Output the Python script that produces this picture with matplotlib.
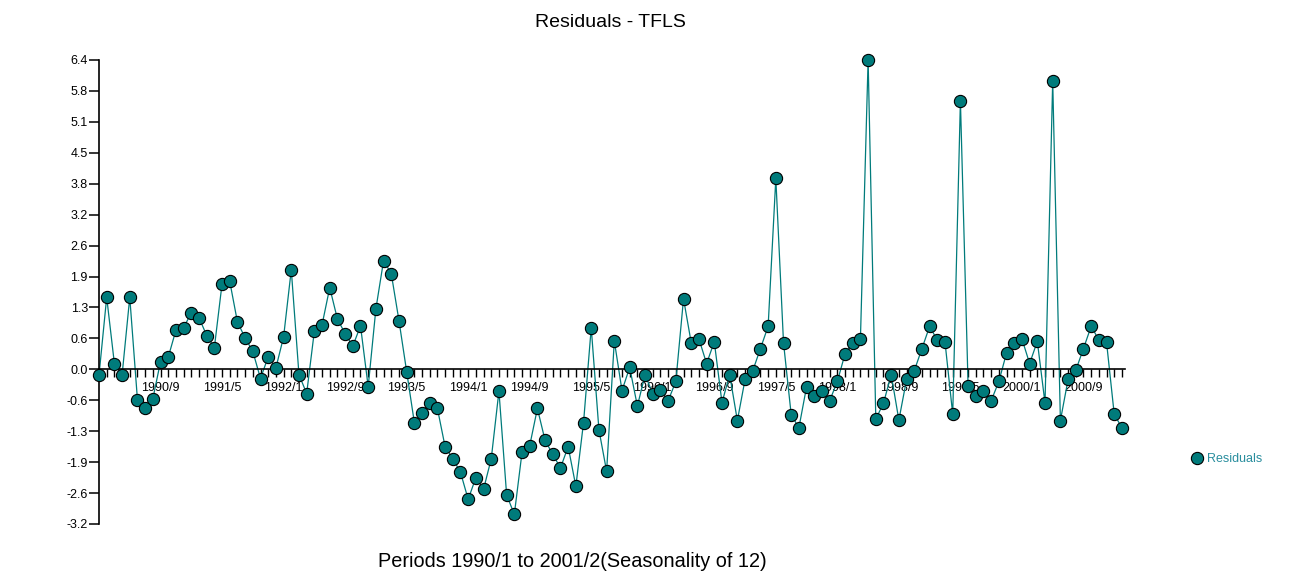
import matplotlib
matplotlib.use("Agg")
import matplotlib.pyplot as plt
from matplotlib.lines import Line2D
import numpy as np

plt.rcParams.update({
    "font.family": ["Liberation Sans", "DejaVu Sans"],
    "figure.dpi": 100,
})

# ── Data ───────────────────────────────────────────────────────────────────────
START_YEAR, START_MONTH = 1990, 1

residuals = [
    -0.12, 1.49, 0.12, -0.12, 1.49, -0.63, -0.81, -0.61, 0.16, 0.25,
    0.81, 0.86, 1.17, 1.07, 0.70, 0.45, 1.77, 1.82, 0.98, 0.65,
    0.37, -0.19, 0.26, 0.03, 0.67, 2.06, -0.11, -0.50, 0.79, 0.92,
    1.69, 1.04, 0.74, 0.48, 0.90, -0.36, 1.25, 2.25, 1.98, 1.01,
    -0.05, -1.10, -0.90, -0.69, -0.81, -1.60, -1.85, -2.13, -2.69, -2.24,
    -2.48, -1.85, -0.45, -2.60, -3.00, -1.72, -1.58, -0.81, -1.47, -1.76,
    -2.04, -1.60, -2.42, -1.10, 0.86, -1.25, -2.11, 0.59, -0.44, 0.04,
    -0.76, -0.11, -0.51, -0.43, -0.65, -0.25, 1.46, 0.55, 0.63, 0.12,
    0.57, -0.69, -0.11, -1.06, -0.21, -0.03, 0.43, 0.89, 3.95, 0.55,
    -0.94, -1.21, -0.36, -0.56, -0.44, -0.65, -0.25, 0.32, 0.55, 0.63,
    6.40, -1.03, -0.70, -0.11, -1.05, -0.21, -0.03, 0.43, 0.89, 0.60,
    0.56, -0.93, 5.56, -0.34, -0.56, -0.44, -0.65, -0.25, 0.34, 0.54,
    0.63, 0.12, 0.58, -0.70, 5.97, -1.06, -0.21, -0.02, 0.43, 0.89,
    0.61, 0.56, -0.93, -1.21,
]

y_ticks = [-3.2, -2.56, -1.92, -1.28, -0.64, 0.0, 0.64, 1.28, 1.92, 2.56,
           3.2, 3.84, 4.48, 5.12, 5.76, 6.4]

TEAL = "#007b7b"

periods = np.arange(len(residuals))
period_labels = []
for i in periods:
    m = START_MONTH - 1 + i
    period_labels.append(f"{START_YEAR + m // 12}/{m % 12 + 1}")

# ── Figure ─────────────────────────────────────────────────────────────────────
fig = plt.figure(figsize=(12.94, 5.83))
ax = fig.add_axes([99 / 1294, 1 - 524 / 583, (1125 - 99) / 1294, (524 - 60) / 583])

ax.plot(periods, residuals, color=TEAL, linewidth=0.9, zorder=2)
ax.plot(periods, residuals, linestyle="none", marker="o", markersize=8.8,
        markerfacecolor=TEAL, markeredgecolor="black", markeredgewidth=0.8,
        zorder=3, clip_on=False)

ax.set_xlim(0, len(residuals) - 1 + 0.4)
ax.set_ylim(-3.2, 6.4)

for side in ["top", "right"]:
    ax.spines[side].set_visible(False)
ax.spines["bottom"].set_position(("data", 0))
ax.spines["left"].set_linewidth(1.2)
ax.spines["bottom"].set_linewidth(1.2)

ax.set_yticks(y_ticks)
ax.set_yticklabels([f"{v:.1f}" for v in y_ticks])
ax.tick_params(axis="y", length=7, width=1.1, labelsize=9, pad=1)

ax.set_xticks(periods)
ax.set_xticklabels([lbl if (i % 8 == 0 and i > 0) else "" for i, lbl in enumerate(period_labels)])
ax.tick_params(axis="x", length=6, width=1.0, labelsize=9, pad=3)

fig.text(0.4714, 0.961, "Residuals - TFLS", ha="center", va="center", fontsize=14)
fig.text(0.442, 0.037, "Periods 1990/1 to 2001/2(Seasonality of 12)",
         ha="center", va="center", fontsize=14.3)

handle = Line2D([], [], linestyle="none", marker="o", markersize=8.8,
                markerfacecolor=TEAL, markeredgecolor="black", markeredgewidth=0.8)
ax.legend([handle], ["Residuals"], loc="center left",
          bbox_to_anchor=(1179 / 1294, 1 - 459 / 583), bbox_transform=fig.transFigure,
          frameon=False, fontsize=9, labelcolor="#2a8e9e", handlelength=1.0,
          handletextpad=0.3)

fig.savefig("out.png", dpi=100)
